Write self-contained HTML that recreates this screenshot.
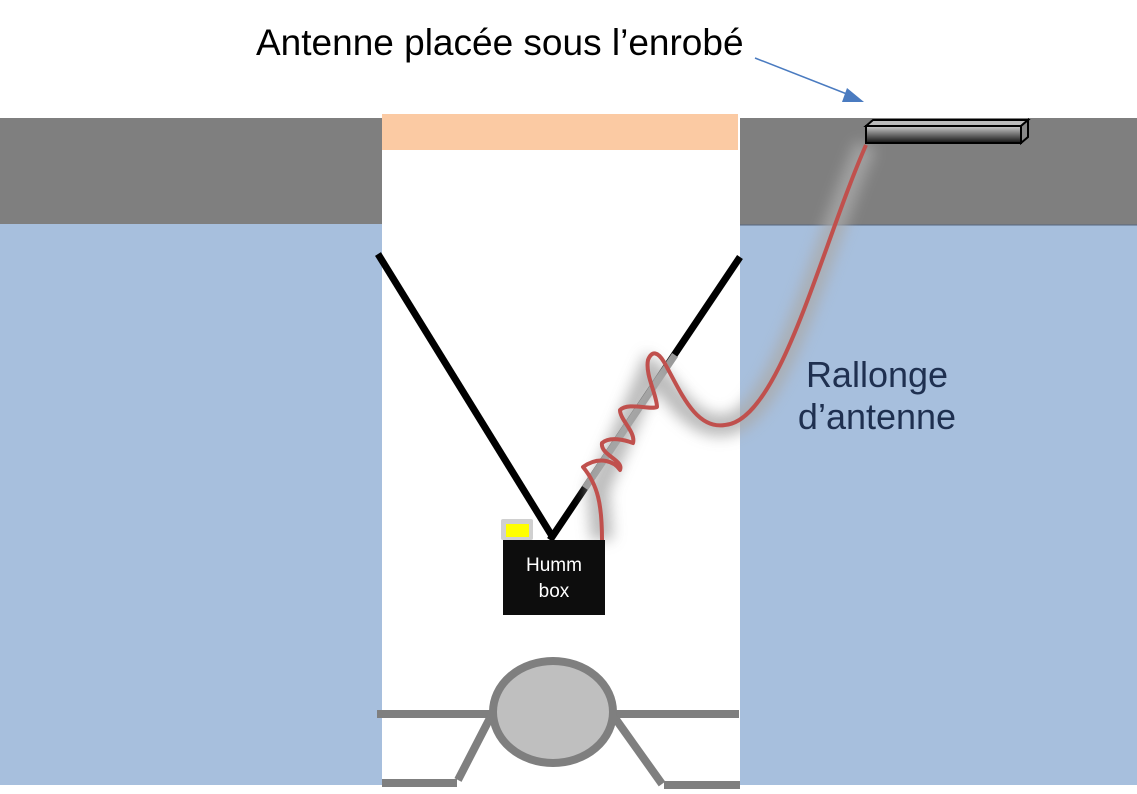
<!DOCTYPE html>
<html><head><style>body{margin:0;background:#fff}svg{display:block}</style></head><body>
<svg width="1137" height="794" xmlns="http://www.w3.org/2000/svg" font-family="Liberation Sans, sans-serif">
<defs>
<filter id="glow" x="-50%" y="-50%" width="200%" height="200%"><feGaussianBlur stdDeviation="7"/></filter>
<linearGradient id="ant" x1="0" y1="0" x2="0" y2="1"><stop offset="0" stop-color="#ccc"/><stop offset="1" stop-color="#111"/></linearGradient>
</defs>
<rect x="0" y="224" width="1137" height="561" fill="#a7bfdd"/>
<rect x="0" y="118" width="382" height="106" fill="#7f7f7f"/>
<rect x="736" y="118" width="401" height="107" fill="#7f7f7f"/>
<line x1="740" y1="225" x2="1137" y2="225" stroke="#55657d" stroke-width="1"/>
<rect x="382" y="114" width="358" height="671" fill="#fff"/>
<rect x="382" y="114" width="356" height="36" fill="#fbcaa3"/>
<text x="256" y="55" font-size="37" fill="#000">Antenne placée sous l’enrobé</text>
<line x1="755" y1="58" x2="852" y2="96" stroke="#4a7bc0" stroke-width="1.5"/>
<polygon points="864,102 847,88 842,102" fill="#4a7bc0"/>
<!-- V lines -->
<line x1="378" y1="254" x2="552" y2="536" stroke="#000" stroke-width="7"/>
<line x1="740" y1="257" x2="550" y2="540" stroke="#000" stroke-width="7"/>
<line x1="585" y1="488" x2="675" y2="355" stroke="#999" stroke-width="7"/>
<!-- cable glow -->
<path d="M602,540 L598,490 L620,440 L650,370 C670,385 690,430 725,425 C780,420 820,250 866,145" fill="none" stroke="#aaa" stroke-width="22" filter="url(#glow)" opacity="0.8"/>
<path d="M602,540 C602,505 598,485 583,467 C600,455 615,462 620,470 C624,460 600,455 602,443 C610,436 625,440 633,443 C636,432 620,420 620,410 C628,402 650,410 657,407 C657,395 645,375 648,360 C652,350 658,352 664,362 C680,390 695,430 725,425 C780,420 820,250 866,145" fill="none" stroke="#c0504d" stroke-width="4" stroke-linejoin="round"/>
<!-- Humm box -->
<rect x="503" y="540" width="102" height="75" fill="#0d0d0d"/>
<text x="554" y="571" font-size="19" fill="#fff" text-anchor="middle">Humm</text>
<text x="554" y="597" font-size="19" fill="#fff" text-anchor="middle">box</text>
<rect x="501" y="519" width="32" height="21" fill="#d0d0d0" rx="2"/>
<rect x="506" y="524" width="23" height="13" fill="#ffff00"/>
<!-- antenna -->
<rect x="866" y="126" width="155" height="17" fill="url(#ant)" stroke="#000" stroke-width="2"/>
<polygon points="866,126 873,120 1028,120 1021,126" fill="#bbb" stroke="#000" stroke-width="2"/>
<polygon points="1021,126 1028,120 1028,137 1021,143" fill="#888" stroke="#000" stroke-width="2"/>
<text x="877" y="387" font-size="36" fill="#1f3050" text-anchor="middle">Rallonge</text>
<text x="877" y="429" font-size="36" fill="#1f3050" text-anchor="middle">d’antenne</text>
<!-- pipe -->
<g stroke="#7f7f7f" stroke-width="8" fill="none">
<line x1="377" y1="714" x2="492" y2="714"/>
<line x1="614" y1="714" x2="739" y2="714"/>
<line x1="490" y1="718" x2="458" y2="780"/>
<line x1="615" y1="718" x2="662" y2="784"/>
<line x1="382" y1="783" x2="457" y2="783"/>
<line x1="664" y1="785" x2="740" y2="785"/>
<ellipse cx="553" cy="712" rx="60" ry="51" fill="#bfbfbf"/>
</g>
</svg>
</body></html>
